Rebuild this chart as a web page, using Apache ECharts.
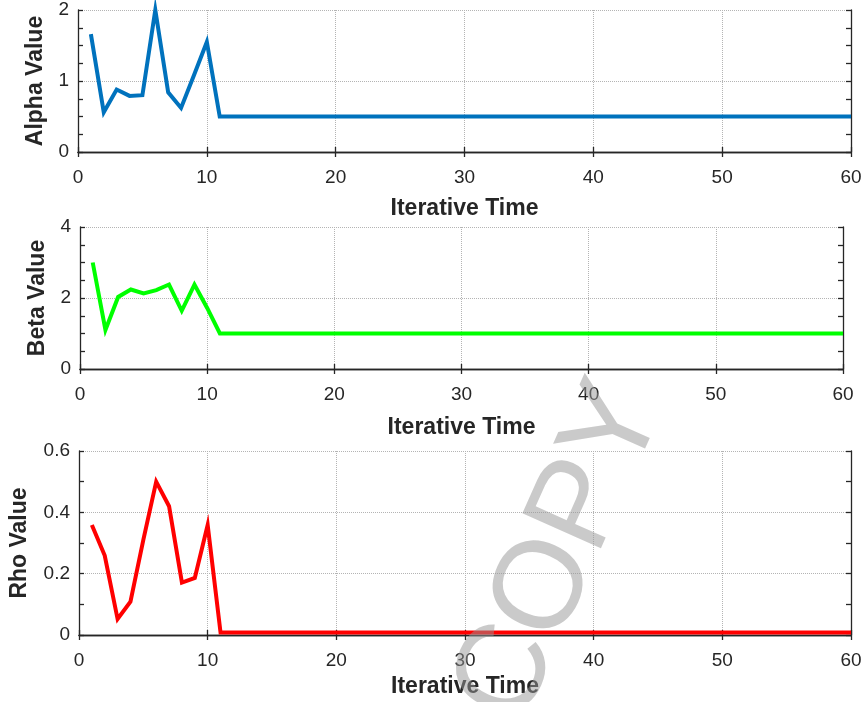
<!DOCTYPE html>
<html>
<head>
<meta charset="utf-8">
<script src="https://cdn.jsdelivr.net/npm/echarts@6/dist/echarts.min.js"></script>
<style>
html,body{margin:0;padding:0;background:#fff;}
#chart{width:865px;height:702px;}
</style>
</head>
<body>
<div id="chart"></div>
<script>
const iterations = [1,2,3,4,5,6,7,8,9,10,11,12,13,14,15,16,17,18,19,20,
  21,22,23,24,25,26,27,28,29,30,31,32,33,34,35,36,37,38,39,40,
  41,42,43,44,45,46,47,48,49,50,51,52,53,54,55,56,57,58,59,60];
const alphaValues = [1.66,0.56,0.88,0.79,0.80,2.00,0.84,0.62,1.08,1.55,
  0.5,0.5,0.5,0.5,0.5,0.5,0.5,0.5,0.5,0.5,
  0.5,0.5,0.5,0.5,0.5,0.5,0.5,0.5,0.5,0.5,
  0.5,0.5,0.5,0.5,0.5,0.5,0.5,0.5,0.5,0.5,
  0.5,0.5,0.5,0.5,0.5,0.5,0.5,0.5,0.5,0.5,
  0.5,0.5,0.5,0.5,0.5,0.5,0.5,0.5,0.5,0.5];
const betaValues = [3.00,1.10,2.03,2.24,2.13,2.22,2.38,1.64,2.38,1.72,
  1.0,1.0,1.0,1.0,1.0,1.0,1.0,1.0,1.0,1.0,
  1.0,1.0,1.0,1.0,1.0,1.0,1.0,1.0,1.0,1.0,
  1.0,1.0,1.0,1.0,1.0,1.0,1.0,1.0,1.0,1.0,
  1.0,1.0,1.0,1.0,1.0,1.0,1.0,1.0,1.0,1.0,
  1.0,1.0,1.0,1.0,1.0,1.0,1.0,1.0,1.0,1.0];
const rhoValues = [0.359,0.259,0.052,0.109,0.31,0.50,0.42,0.171,0.186,0.359,
  0.008,0.008,0.008,0.008,0.008,0.008,0.008,0.008,0.008,0.008,
  0.008,0.008,0.008,0.008,0.008,0.008,0.008,0.008,0.008,0.008,
  0.008,0.008,0.008,0.008,0.008,0.008,0.008,0.008,0.008,0.008,
  0.008,0.008,0.008,0.008,0.008,0.008,0.008,0.008,0.008,0.008,
  0.008,0.008,0.008,0.008,0.008,0.008,0.008,0.008,0.008,0.008];
const xTicks = [0,10,20,30,40,50,60];
const yNames = ['Alpha Value','Beta Value','Rho Value'];
const xName = 'Iterative Time';
const watermark = 'COPY';

const FONT = 'Liberation Sans, Arial, sans-serif';
const TXT = '#262626';
const AX = '#262626';

const panels = [
  {grid:{left:78, top:10, right:14, height:142}, ymax:2, yint:1, yminor:0.25, data:alphaValues, color:'#0072BD', nameGap:45, yGap:30},
  {grid:{left:80, top:227, right:22, height:142}, ymax:4, yint:2, yminor:0.5, data:betaValues, color:'#00FF00', nameGap:47, yGap:30},
  {grid:{left:78, top:451, right:14, height:184}, ymax:0.6, yint:0.2, yminor:0.1, data:rhoValues, color:'#FF0000', nameGap:40, yGap:48}
];

const grids=[], xAxes=[], yAxes=[], series=[];
panels.forEach((p,i)=>{
  grids.push(Object.assign({containLabel:false}, p.grid));
  const axLine = {show:true, lineStyle:{color:AX, width:1.3}};
  const split = {show:true, lineStyle:{color:'#b4b4b4', type:[1,1], width:1}};
  const tick = {show:true, inside:true, length:5, lineStyle:{color:AX, width:1.3}};
  xAxes.push({
    gridIndex:i, type:'value', position:'bottom', min:xTicks[0], max:xTicks[xTicks.length-1], interval:10,
    axisLine:axLine, axisTick:tick,
    axisLabel:{show:true, margin:16, fontSize:19, color:TXT, fontFamily:FONT},
    splitLine:split,
    name:xName, nameLocation:'middle', nameGap:p.nameGap,
    nameTextStyle:{fontSize:23, fontWeight:'bold', color:TXT, fontFamily:FONT}
  });
  xAxes.push({
    gridIndex:i, type:'value', position:'top', min:xTicks[0], max:xTicks[xTicks.length-1], interval:10,
    axisLine:axLine, axisTick:tick,
    axisLabel:{show:false}, splitLine:{show:false}
  });
  yAxes.push({
    gridIndex:i, type:'value', position:'left', min:0, max:p.ymax, interval:p.yint,
    axisLine:axLine, axisTick:{show:false},
    axisLabel:{show:true, margin:9, fontSize:19, color:TXT, fontFamily:FONT},
    splitLine:split,
    name:yNames[i], nameLocation:'middle', nameGap:p.yGap,
    nameTextStyle:{fontSize:23, fontWeight:'bold', color:TXT, fontFamily:FONT}
  });
  yAxes.push({
    gridIndex:i, type:'value', position:'left', min:0, max:p.ymax, interval:p.yminor,
    axisLine:{show:false}, axisTick:tick,
    axisLabel:{show:false}, splitLine:{show:false}
  });
  yAxes.push({
    gridIndex:i, type:'value', position:'right', min:0, max:p.ymax, interval:p.yminor,
    axisLine:axLine, axisTick:tick,
    axisLabel:{show:false}, splitLine:{show:false}
  });
  series.push({
    type:'line', xAxisIndex:i*2, yAxisIndex:i*3, showSymbol:false, symbol:'none',
    data: iterations.map((x,k)=>[x, p.data[k]]),
    lineStyle:{color:p.color, width:4, join:'miter'}, clip:false, animation:false
  });
});

const chart = echarts.init(document.getElementById('chart'), null, {renderer:'canvas'});
chart.setOption({
  animation:false,
  backgroundColor:'#fff',
  grid:grids, xAxis:xAxes, yAxis:yAxes, series:series,
  graphic:[{
    type:'text', x:561, y:553, rotation:66*Math.PI/180, z:100,
    style:{text:watermark, font:'125px "Liberation Sans", Arial, sans-serif', fill:'rgba(150,150,150,0.5)', align:'center', verticalAlign:'middle'}
  }]
});
</script>
</body>
</html>
